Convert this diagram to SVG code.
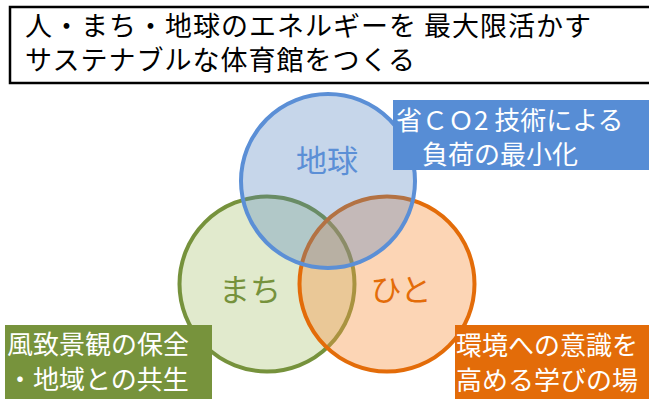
<svg xmlns="http://www.w3.org/2000/svg" width="649" height="399" viewBox="0 0 649 399">
<style>
text{font-family:"Noto Sans CJK JP","Noto Sans CJK SC",sans-serif}
.title{font-size:27px;fill:#000;letter-spacing:1px}
.lbl{font-size:26px;fill:#fff}
.big{font-size:31px;text-anchor:middle}
.ring{stroke-width:4}
</style>
<rect width="649" height="399" fill="#fff"/>
<g id="title">
<rect x="10" y="7" width="660" height="76" fill="#fff" stroke="#000" stroke-width="2.5"/>
<text class="title" x="25" y="36">人・まち・地球のエネルギーを 最大限活かす</text>
<text class="title" x="25" y="70">サステナブルな体育館をつくる</text>
</g>
<g id="machi">
<circle class="ring" cx="267" cy="284" r="87.5" fill="#9BBB59" fill-opacity="0.3" stroke="#76923C"/>
</g>
<g id="hito">
<circle class="ring" cx="387" cy="284" r="87.5" fill="#F79646" fill-opacity="0.4" stroke="#E36C09"/>
</g>
<g id="chikyu">
<circle class="ring" cx="328" cy="181" r="87" fill="#4F81BD" fill-opacity="0.32" stroke="#5B8FD6"/>
</g>
<g id="circle-labels">
<text class="big" x="327" y="172" fill="#5B8FD6">地球</text>
<text class="big" x="250" y="301" fill="#76923C">まち</text>
<text class="big" x="401" y="301" fill="#E36C09">ひと</text>
</g>
<g id="label-chikyu">
<rect x="393" y="100" width="260" height="70" fill="#578DD5"/>
<text class="lbl" x="396" y="130">省ＣＯ2 技術による</text>
<text class="lbl" x="422" y="164">負荷の最小化</text>
</g>
<g id="label-machi">
<rect x="5" y="325" width="207" height="80" fill="#77933C"/>
<text class="lbl" x="7" y="354">風致景観の保全</text>
<text class="lbl" x="7" y="389">・地域との共生</text>
</g>
<g id="label-hito">
<rect x="455" y="325" width="200" height="80" fill="#E36C09"/>
<text class="lbl" x="456" y="355">環境への意識を</text>
<text class="lbl" x="456" y="390">高める学びの場</text>
</g>
<g id="connectors"></g>
</svg>
